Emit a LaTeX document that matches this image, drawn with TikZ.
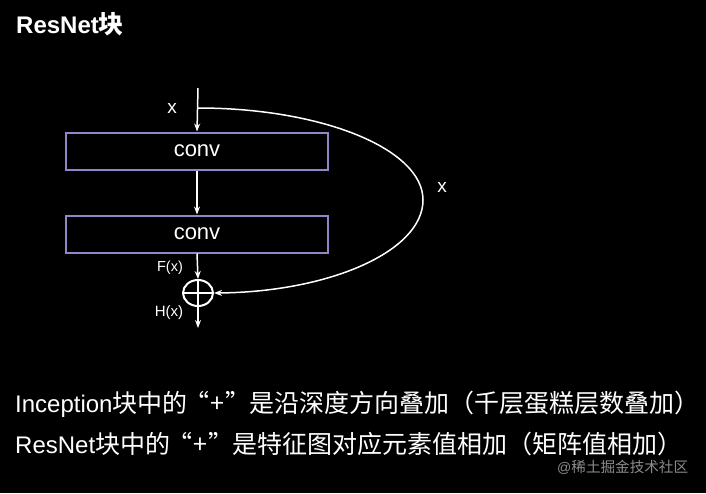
\documentclass[tikz,border=0pt]{standalone}
\usepackage{fontspec}
\setmainfont{Liberation Sans}
\newfontfamily\cjk[Scale=1.0417]{Noto Sans CJK SC}
\usetikzlibrary{shapes.geometric,arrows.meta}
\definecolor{boxborder}{HTML}{9585C8}
\definecolor{wmgray}{HTML}{8C8C8C}
\newcommand{\qplus}{\makebox[22pt][r]{“}\makebox[16pt]{+}\makebox[24pt][l]{”}}
\tikzset{
  convbox/.style={draw=boxborder,line width=2pt,minimum width=262pt,minimum height=37pt,inner sep=0pt,text=white,font=\fontsize{22pt}{24pt}\selectfont},
  flow/.style={draw=white,line width=1.5pt,-{Stealth[length=8pt,width=6pt]}},
  lbl/.style={text=white,inner sep=0pt},
  sumnode/.style={draw=white,line width=2pt,ellipse,minimum width=30pt,minimum height=26pt,inner sep=0pt},
  bigtext/.style={text=white,inner sep=0pt,anchor=base west,font=\fontsize{24pt}{28pt}\selectfont}
}
\begin{document}
\begin{tikzpicture}[x=1pt,y=-1pt]
\fill[black] (0,0) rectangle (706,493);
\useasboundingbox (0,0) rectangle (706,493);
% title
\node[bigtext,font=\fontsize{24pt}{26pt}\selectfont\bfseries] (title) at (16,33) {ResNet{\cjk 块}};
% diagram
\coordinate (top) at (198,88);
\coordinate (split) at (198,108);
\coordinate (bottom) at (198,328);
\node[convbox] (c1) at (197,151) {conv};
\node[convbox] (c2) at (197,234) {conv};
\node[sumnode] (sum) at (198,293) {};
\draw[white,line width=1.5pt] (sum.north) -- (sum.south) (sum.west) -- (sum.east);
\draw[flow] (top) -- (c1.north);
\draw[flow] (c1.south) -- (c2.north);
\draw[flow] (c2.south) -- (sum.north);
\draw[flow] (sum.south) -- (bottom);
\draw[flow] (split) .. controls (322,108) and (423,149) .. (423,200)
                    .. controls (423,251) and (330,292) .. (sum.east);
% labels
\node[lbl,font=\fontsize{19pt}{20pt}\selectfont] (lx) at (172,108) {x};
\node[lbl,font=\fontsize{19pt}{20pt}\selectfont] (rx) at (442,187) {x};
\node[lbl,font=\fontsize{14.5pt}{16pt}\selectfont] (fx) at (170,268) {F(x)};
\node[lbl,font=\fontsize{15pt}{16pt}\selectfont] (hx) at (169,313) {H(x)};
% bottom text
\node[bigtext] (l1) at (15,412) {Inception{\cjk 块中的\qplus 是沿深度方向叠加（千层蛋糕层数叠加）}};
\node[bigtext] (l2) at (15,453) {ResNet{\cjk 块中的\qplus 是特征图对应元素值相加（矩阵值相加）}};
\node[text=wmgray,inner sep=0pt,anchor=base west,font=\fontsize{14pt}{16pt}\selectfont] (wm) at (557,472) {@{\cjk 稀土掘金技术社区}};
\end{tikzpicture}
\end{document}
